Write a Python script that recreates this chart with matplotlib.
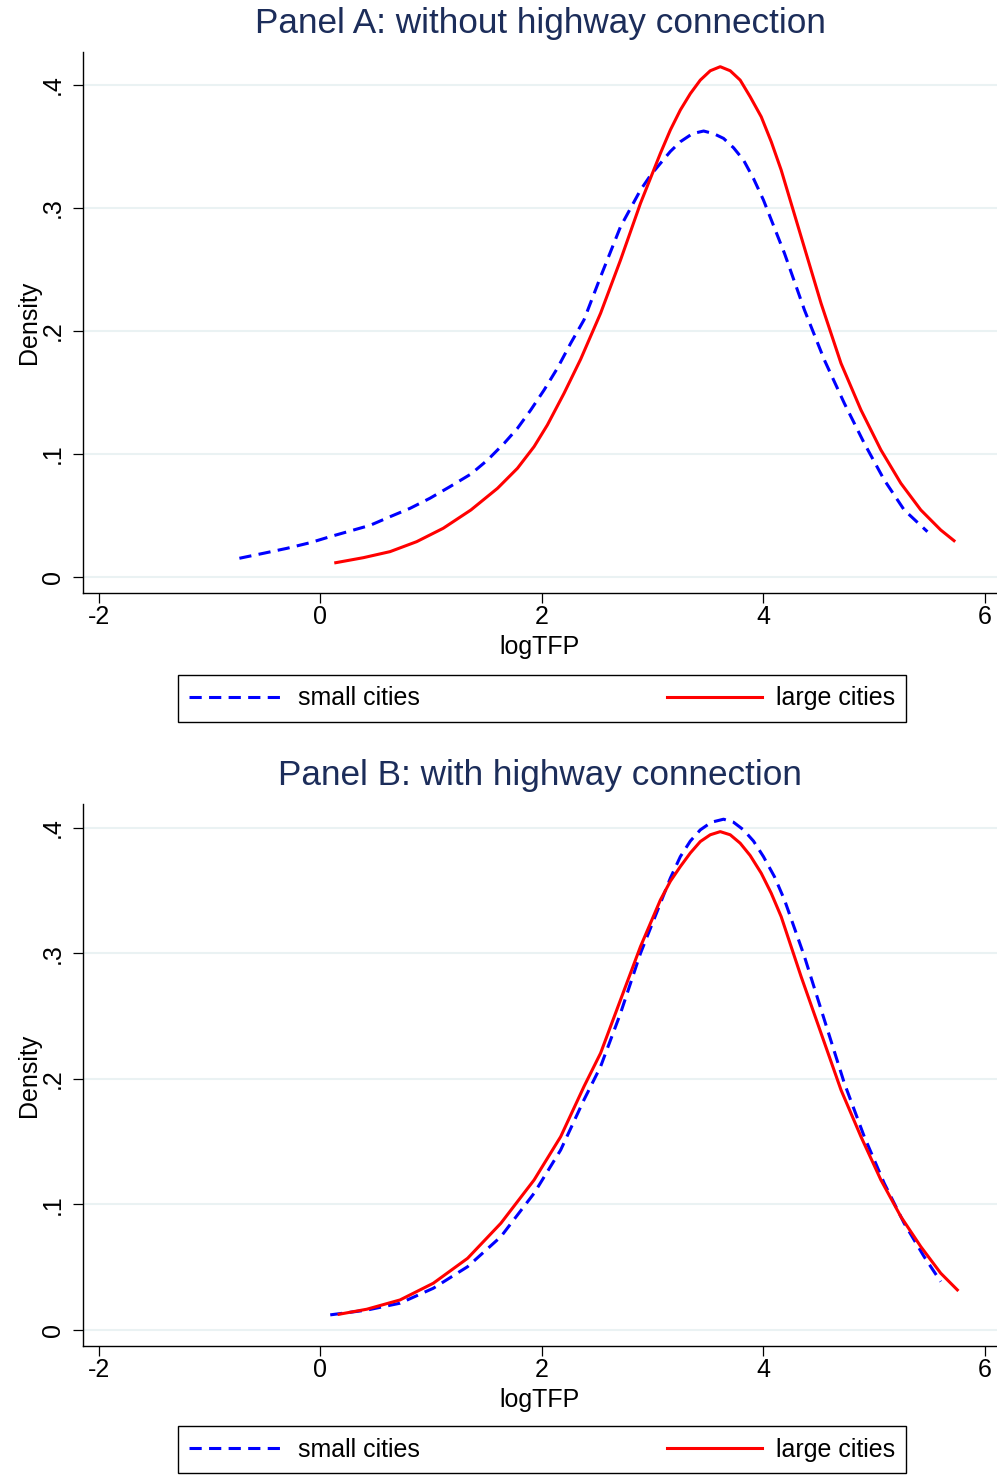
import matplotlib.pyplot as plt

plt.rcParams['font.family'] = ['Liberation Sans', 'DejaVu Sans']
plt.rcParams['axes.unicode_minus'] = False

# Panel A: without highway connection
a_small_x = [-0.73, -0.51, -0.30, -0.09, 0.09, 0.27, 0.45, 0.63, 0.81, 0.99, 1.17, 1.36, 1.51, 1.66,
             1.78, 1.90, 2.02, 2.14, 2.26, 2.38, 2.53, 2.71, 2.89, 2.98, 3.07, 3.16, 3.25, 3.36, 3.46,
             3.55, 3.64, 3.73, 3.82, 3.91, 4.00, 4.19, 4.37, 4.55, 4.73, 4.91, 5.09, 5.27, 5.48]
a_small_y = [0.0152, 0.0193, 0.0233, 0.0279, 0.0328, 0.0374, 0.0420, 0.0490, 0.0558, 0.0640, 0.0734,
             0.0837, 0.0951, 0.1087, 0.1209, 0.1358, 0.1520, 0.1697, 0.1900, 0.2090, 0.2441, 0.2848,
             0.3146, 0.3265, 0.3363, 0.3460, 0.3539, 0.3605, 0.3626, 0.3605, 0.3566, 0.3490, 0.3390,
             0.3240, 0.3065, 0.2631, 0.2171, 0.1764, 0.1412, 0.1087, 0.0789, 0.0545, 0.0368]
a_large_x = [0.14, 0.39, 0.63, 0.87, 1.11, 1.36, 1.60, 1.78, 1.93, 2.05, 2.20, 2.35, 2.53, 2.71, 2.89,
             3.07, 3.16, 3.25, 3.34, 3.43, 3.52, 3.61, 3.70, 3.79, 3.88, 3.98, 4.07, 4.16, 4.34, 4.52,
             4.70, 4.88, 5.06, 5.24, 5.42, 5.60, 5.72]
a_large_y = [0.0116, 0.0157, 0.0206, 0.0287, 0.0396, 0.0545, 0.0721, 0.0884, 0.1060, 0.1236, 0.1493,
             0.1770, 0.2144, 0.2577, 0.3038, 0.3445, 0.3635, 0.3797, 0.3930, 0.4040, 0.4116, 0.4149,
             0.4116, 0.4040, 0.3905, 0.3742, 0.3540, 0.3309, 0.2767, 0.2225, 0.1737, 0.1358, 0.1033,
             0.0762, 0.0545, 0.0382, 0.0295]

# Panel B: with highway connection
b_small_x = [0.09, 0.42, 0.72, 1.02, 1.33, 1.63, 1.93, 2.17, 2.38, 2.53, 2.71, 2.89, 3.07, 3.16, 3.25,
             3.34, 3.43, 3.53, 3.64, 3.73, 3.82, 3.91, 4.00, 4.10, 4.19, 4.37, 4.55, 4.73, 4.91, 5.09,
             5.27, 5.45, 5.60]
b_small_y = [0.0120, 0.0158, 0.0213, 0.0332, 0.0504, 0.0743, 0.1089, 0.1434, 0.1833, 0.2098, 0.2523,
             0.3000, 0.3400, 0.3600, 0.3771, 0.3895, 0.3984, 0.4045, 0.4069, 0.4045, 0.3984, 0.3895,
             0.3771, 0.3610, 0.3426, 0.2975, 0.2470, 0.1966, 0.1540, 0.1169, 0.0850, 0.0584, 0.0385]
b_large_x = [0.17, 0.42, 0.72, 1.02, 1.33, 1.63, 1.93, 2.17, 2.38, 2.53, 2.71, 2.89, 3.07, 3.16, 3.25,
             3.34, 3.43, 3.52, 3.61, 3.70, 3.79, 3.88, 3.98, 4.07, 4.16, 4.34, 4.52, 4.70, 4.88, 5.06,
             5.24, 5.42, 5.60, 5.75]
b_large_y = [0.0125, 0.0165, 0.0239, 0.0372, 0.0571, 0.0850, 0.1195, 0.1540, 0.1939, 0.2205, 0.2630,
             0.3054, 0.3426, 0.3575, 0.3692, 0.3800, 0.3891, 0.3945, 0.3970, 0.3945, 0.3878, 0.3780,
             0.3639, 0.3480, 0.3293, 0.2815, 0.2364, 0.1912, 0.1540, 0.1195, 0.0903, 0.0664, 0.0452,
             0.0319]

x_ticks = [-2, 0, 2, 4, 6]
y_ticks = [0, 0.1, 0.2, 0.3, 0.4]
y_ticklabels = ['0', '.1', '.2', '.3', '.4']
series_labels = ['small cities', 'large cities']

title_color = '#1c2d5a'
grid_color = '#eaf2f3'
fs = 18

fig = plt.figure(figsize=(9.97, 14.75), dpi=100)
axA = fig.add_axes([0.0832, 0.598, 0.9168, 0.3667])
axB = fig.add_axes([0.0832, 0.0875, 0.9168, 0.3674])


def style(ax, title, ylim):
    ax.set_xlim(-2.142, 6.108)
    ax.set_ylim(*ylim)
    ax.set_xticks(x_ticks)
    ax.set_yticks(y_ticks)
    ax.set_yticklabels(y_ticklabels)
    ax.spines['top'].set_visible(False)
    ax.spines['right'].set_visible(False)
    for s in ['left', 'bottom']:
        ax.spines[s].set_linewidth(1.0)
    ax.tick_params(axis='both', direction='out', length=7.2, width=0.9, labelsize=fs)
    ax.tick_params(axis='x', pad=1.5)
    ax.tick_params(axis='y', pad=6, labelrotation=90)
    for lab in ax.get_yticklabels():
        lab.set_verticalalignment('center')
    ax.grid(axis='y', color=grid_color, linewidth=1.5)
    ax.set_axisbelow(True)
    ax.set_xlabel('logTFP', fontsize=fs, labelpad=4.5)
    ax.set_ylabel('Density', fontsize=fs, labelpad=0)
    ax.set_title(title, fontsize=25.3, color=title_color, pad=13.5)


dash = (4.0, 2.4)
for ax, sx, sy, lx, ly, title, ylim, leg_y in [
        (axA, a_small_x, a_small_y, a_large_x, a_large_y,
         'Panel A: without highway connection', (-0.013, 0.4268), 0.5112),
        (axB, b_small_x, b_small_y, b_large_x, b_large_y,
         'Panel B: with highway connection', (-0.01275, 0.419), 0.0018)]:
    l1, = ax.plot(sx, sy, color='#0000ff', lw=2.2, dashes=dash, label=series_labels[0])
    l2, = ax.plot(lx, ly, color='#ff0000', lw=2.2, label=series_labels[1])
    style(ax, title, ylim)
    leg = fig.legend([l1, l2], series_labels, ncol=2, mode='expand',
                     loc='center', bbox_to_anchor=(0.1785, leg_y, 0.7302, 0.0308),
                     borderaxespad=0, fontsize=fs, handlelength=3.8, handletextpad=0.55,
                     borderpad=0.45, fancybox=False, framealpha=1, edgecolor='black')
    leg.get_frame().set_linewidth(1.0)

fig.savefig('out.png', dpi=100)
